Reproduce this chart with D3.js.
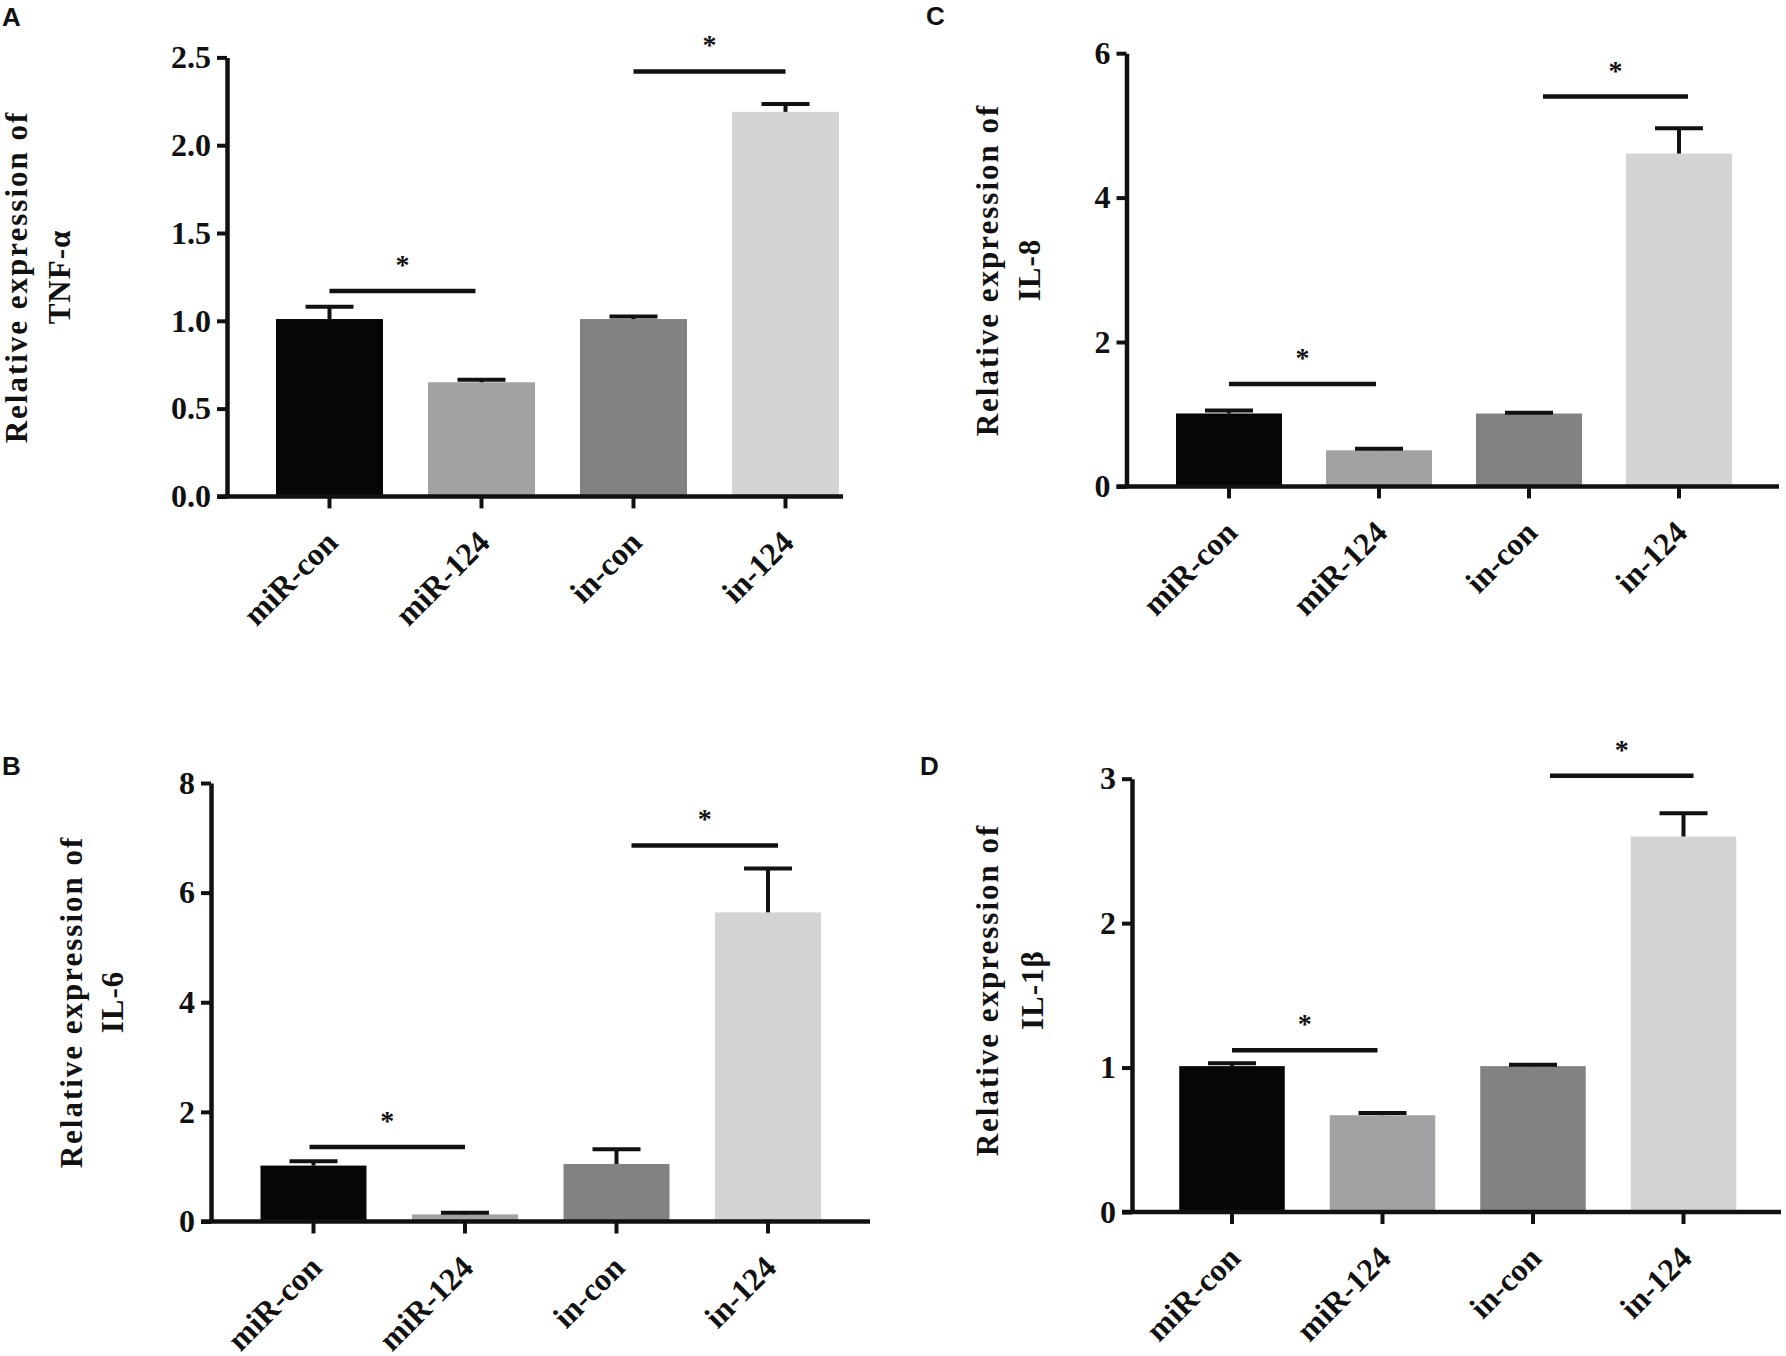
<!DOCTYPE html>
<html>
<head>
<meta charset="utf-8">
<script src="https://cdnjs.cloudflare.com/ajax/libs/d3/7.8.5/d3.min.js"></script>
<style>
  body { margin: 0; background: #fff; }
  text { font-family: "Liberation Serif", "Times New Roman", serif; font-weight: bold; fill: #111; }
  .letter { font-family: "Liberation Sans", Arial, sans-serif; font-weight: bold; }
</style>
</head>
<body>
<svg id="fig" width="1786" height="1356"></svg>
<script>
// groups and bar fills
var groups = ["miR-con", "miR-124", "in-con", "in-124"];
var barColors = ["#060606", "#a2a2a5", "#828282", "#d4d4d4"];
var sigPairs = [[0, 1], [2, 3]];

// A: TNF-alpha
var tnfMean  = [1.01, 0.65, 1.01, 2.19];
var tnfErr   = [0.07, 0.015, 0.015, 0.045];
var tnfTicks = [0, 0.5, 1.0, 1.5, 2.0, 2.5];
var tnfSig   = [1.17, 2.42];

// B: IL-6
var il6Mean  = [1.02, 0.13, 1.05, 5.64];
var il6Err   = [0.08, 0.03, 0.27, 0.80];
var il6Ticks = [0, 2, 4, 6, 8];
var il6Sig   = [1.36, 6.86];

// C: IL-8
var il8Mean  = [1.01, 0.50, 1.01, 4.61];
var il8Err   = [0.04, 0.02, 0.01, 0.35];
var il8Ticks = [0, 2, 4, 6];
var il8Sig   = [1.42, 5.40];

// D: IL-1beta
var il1bMean  = [1.01, 0.67, 1.01, 2.60];
var il1bErr   = [0.02, 0.015, 0.01, 0.16];
var il1bTicks = [0, 1, 2, 3];
var il1bSig   = [1.12, 3.02];

var panels = [
  { letter: "A", lx: 2, ly: 26, gene: "TNF-α", mean: tnfMean, err: tnfErr, ticks: tnfTicks, sig: tnfSig, fmt: ".1f",
    ax: 227, top: 57.4, bottom: 496.4, c0: 329.5, step: 152, barW: 107, xEnd: 843,
    labX: [27, 70], labY: 277, shift: [[0, -6], [0, 0]] },
  { letter: "B", lx: 2, ly: 775, gene: "IL-6", mean: il6Mean, err: il6Err, ticks: il6Ticks, sig: il6Sig, fmt: "d",
    ax: 211, top: 783, bottom: 1221.5, c0: 313.5, step: 151.5, barW: 106, xEnd: 870,
    labX: [82, 123], labY: 1002, shift: [[-4, 0], [15, 10]] },
  { letter: "C", lx: 926, ly: 25, gene: "IL-8", mean: il8Mean, err: il8Err, ticks: il8Ticks, sig: il8Sig, fmt: "d",
    ax: 1126.5, top: 53.2, bottom: 486.4, c0: 1229, step: 150, barW: 106, xEnd: 1779,
    labX: [998, 1040], labY: 270, shift: [[0, -3], [14, 9]] },
  { letter: "D", lx: 920, ly: 775, gene: "IL-1β", mean: il1bMean, err: il1bErr, ticks: il1bTicks, sig: il1bSig, fmt: "d",
    ax: 1132, top: 778.7, bottom: 1212, c0: 1232, step: 150.5, barW: 105.5, xEnd: 1781,
    labX: [998, 1043], labY: 990, shift: [[0, -5], [17, 10]] }
];

var svg = d3.select("#fig");

panels.forEach(function(p) {
  var g = svg.append("g");

  var y = d3.scaleLinear()
    .domain([0, d3.max(p.ticks)])
    .range([p.bottom, p.top]);

  var pad = 1 - p.barW / p.step;
  var x = d3.scaleBand()
    .domain(groups)
    .range([p.c0 - p.step / 2, p.c0 - p.step / 2 + groups.length * p.step])
    .paddingInner(pad)
    .paddingOuter(pad / 2);

  var cx = function(i) { return x(groups[i]) + x.bandwidth() / 2; };

  // bars
  g.selectAll("rect.bar")
    .data(p.mean)
    .enter().append("rect")
    .attr("class", "bar")
    .attr("x", function(d, i) { return x(groups[i]); })
    .attr("y", function(d) { return y(d); })
    .attr("width", x.bandwidth())
    .attr("height", function(d) { return p.bottom - y(d); })
    .attr("fill", function(d, i) { return barColors[i]; });

  // upper error bars
  var eb = g.selectAll("g.err")
    .data(p.mean)
    .enter().append("g")
    .attr("class", "err")
    .attr("stroke", "#111")
    .attr("stroke-width", 4);
  eb.append("line")
    .attr("x1", function(d, i) { return cx(i); })
    .attr("x2", function(d, i) { return cx(i); })
    .attr("y1", function(d) { return y(d); })
    .attr("y2", function(d, i) { return y(d + p.err[i]); });
  eb.append("line")
    .attr("x1", function(d, i) { return cx(i) - 24; })
    .attr("x2", function(d, i) { return cx(i) + 24; })
    .attr("y1", function(d, i) { return y(d + p.err[i]); })
    .attr("y2", function(d, i) { return y(d + p.err[i]); });

  // y axis
  var yAxis = g.append("g")
    .attr("transform", "translate(" + p.ax + ",0)")
    .call(d3.axisLeft(y).tickValues(p.ticks).tickFormat(d3.format(p.fmt))
      .tickSize(10).tickSizeOuter(0).tickPadding(6));
  yAxis.select(".domain").attr("stroke", "#111").attr("stroke-width", 4.5);
  yAxis.selectAll(".tick line").attr("stroke", "#111").attr("stroke-width", 4);
  yAxis.selectAll(".tick text")
    .attr("fill", "#111")
    .style("font-size", "32px")
    .style("font-family", "'Liberation Serif', 'Times New Roman', serif")
    .style("font-weight", "bold");

  // x axis
  var xAxis = g.append("g")
    .attr("transform", "translate(0," + p.bottom + ")")
    .call(d3.axisBottom(x).tickSize(12).tickSizeOuter(0));
  xAxis.select(".domain").remove();
  xAxis.selectAll(".tick line").attr("stroke", "#111").attr("stroke-width", 4);
  xAxis.selectAll(".tick text")
    .attr("x", 0).attr("y", 0).attr("dy", 0)
    .attr("text-anchor", "end")
    .attr("transform", "translate(10,48) rotate(-45)")
    .attr("fill", "#111")
    .style("font-size", "32px")
    .style("font-family", "'Liberation Serif', 'Times New Roman', serif")
    .style("font-weight", "bold");
  g.append("line")
    .attr("x1", p.ax - 10).attr("x2", p.xEnd)
    .attr("y1", p.bottom).attr("y2", p.bottom)
    .attr("stroke", "#111").attr("stroke-width", 4.5);

  // significance bars
  sigPairs.forEach(function(pair, k) {
    var x1 = cx(pair[0]) + p.shift[k][0];
    var x2 = cx(pair[1]) + p.shift[k][1];
    var ly = y(p.sig[k]);
    g.append("line")
      .attr("x1", x1).attr("x2", x2)
      .attr("y1", ly).attr("y2", ly)
      .attr("stroke", "#111").attr("stroke-width", 4.5);
    g.append("text")
      .attr("x", (x1 + x2) / 2)
      .attr("y", ly - 17)
      .attr("text-anchor", "middle")
      .style("font-size", "28px")
      .text("*");
  });

  // y label, two lines
  var lines = ["Relative expression of", p.gene];
  lines.forEach(function(t, k) {
    g.append("text")
      .attr("transform", "translate(" + p.labX[k] + "," + p.labY + ") rotate(-90)")
      .attr("text-anchor", "middle")
      .style("font-size", "31px")
      .style("letter-spacing", k === 0 ? "2px" : "1px")
      .text(t);
  });

  // panel letter
  g.append("text")
    .attr("class", "letter")
    .attr("x", p.lx).attr("y", p.ly)
    .style("font-size", "26px")
    .text(p.letter);
});
</script>
</body>
</html>
